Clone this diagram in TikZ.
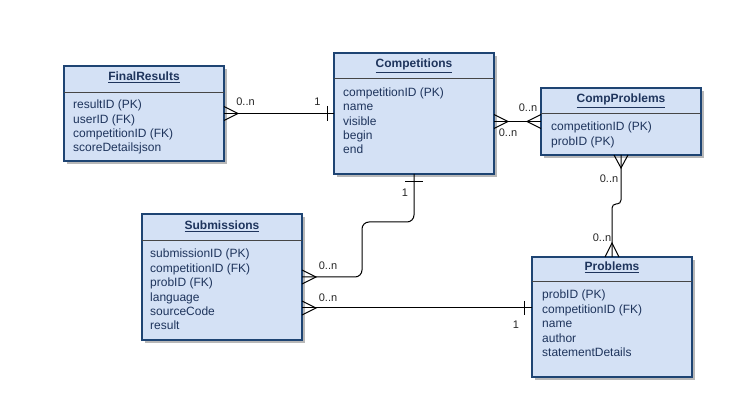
\documentclass[tikz,border=0pt]{standalone}
\usepackage{fontspec}
\setmainfont{Liberation Sans}
\usetikzlibrary{calc,shadows}
\definecolor{efill}{RGB}{212,225,245}
\definecolor{edraw}{RGB}{30,68,115}
\definecolor{etext}{RGB}{30,52,92}
\definecolor{hline}{RGB}{70,70,70}
\tikzset{
  entity/.style={draw=edraw, fill=efill, line width=1.2pt, rectangle, inner sep=0pt, outer sep=0pt,
    minimum width=160pt, anchor=north west,
    drop shadow={shadow xshift=3pt, shadow yshift=-3pt, fill=black!28, opacity=1}},
  etitle/.style={font=\fontsize{12}{14}\selectfont\bfseries, text=etext, anchor=base, inner sep=0pt},
  attr/.style={font=\fontsize{12}{14}\selectfont, text=etext, anchor=base west, inner sep=0pt},
  sepline/.style={draw=hline, line width=0.8pt},
  conn/.style={draw=black, line width=1pt},
  lbl/.style={font=\fontsize{11}{13}\selectfont, text=black!85, inner sep=0pt, anchor=center}
}
\begin{document}
\begin{tikzpicture}[x=1pt,y=-1pt]
\useasboundingbox[fill=white] (0,0) rectangle (749,419);

% entities
\node[entity, minimum height=95pt]  (fr)   at (64,66)  {};
\node[entity, minimum height=121pt] (comp) at (334,53) {};
\node[entity, minimum height=67pt]  (cp)   at (541,88) {};
\node[entity, minimum height=126pt] (sub)  at (142,214){};
\node[entity, minimum height=120pt] (prob) at (532,257){};

% header separators
\draw[sepline] (fr.west |- 0,92) -- (fr.east |- 0,92);
\draw[sepline] (comp.west |- 0,78) -- (comp.east |- 0,78);
\draw[sepline] (cp.west |- 0,113) -- (cp.east |- 0,113);
\draw[sepline] (sub.west |- 0,240) -- (sub.east |- 0,240);
\draw[sepline] (prob.west |- 0,281) -- (prob.east |- 0,281);

% titles
\node[etitle] (frt)   at (144,81)  {\underline{FinalResults}};
\node[etitle] (compt) at (414,68)  {\underline{Competitions}};
\node[etitle] (cpt)   at (621,103) {\underline{CompProblems}};
\node[etitle] (subt)  at (222,230) {\underline{Submissions}};
\node[etitle] (probt) at (612,271) {\underline{Problems}};

% attributes
\foreach \t [count=\i from 0] in {resultID (PK), userID (FK), competitionID (FK), scoreDetailsjson}
  \node[attr] (fr-a\i) at (73,{109+14.3*\i}) {\t};
\foreach \t [count=\i from 0] in {competitionID (PK), name, visible, begin, end}
  \node[attr] (comp-a\i) at (343,{96.5+14.3*\i}) {\t};
\foreach \t [count=\i from 0] in {competitionID (PK), probID (PK)}
  \node[attr] (cp-a\i) at (551,{131+14.3*\i}) {\t};
\foreach \t [count=\i from 0] in {submissionID (PK), competitionID (FK), probID (FK), language, sourceCode, result}
  \node[attr] (sub-a\i) at (150,{258+14.4*\i}) {\t};
\foreach \t [count=\i from 0] in {probID (PK), competitionID (FK), name, author, statementDetails}
  \node[attr] (prob-a\i) at (542,{299+14.4*\i}) {\t};

% connector 1: FinalResults -- Competitions
\coordinate (c1a) at (fr.east);
\coordinate (c1b) at (comp.west |- fr.east);
\draw[conn] (c1a) -- (c1b);
\draw[conn] ($(c1a)+(0,-7)$) -- ($(c1a)+(14,0)$) -- ($(c1a)+(0,7)$);
\draw[conn] ($(c1b)+(-7,-7.5)$) -- ($(c1b)+(-7,7.5)$);
\node[lbl] (l1a) at (245.5,102) {0..n};
\node[lbl] (l1b) at (317.5,102) {1};

% connector 2: Competitions -- CompProblems
\coordinate (c2a) at (comp.east |- cp.west);
\coordinate (c2b) at (cp.west);
\draw[conn] (c2a) -- (c2b);
\draw[conn] ($(c2a)+(0,-7)$) -- ($(c2a)+(14,0)$) -- ($(c2a)+(0,7)$);
\draw[conn] ($(c2b)+(0,-7)$) -- ($(c2b)+(-14,0)$) -- ($(c2b)+(0,7)$);
\node[lbl] (l2a) at (528,108) {0..n};
\node[lbl] (l2b) at (508,133) {0..n};

% connector 3: CompProblems -- Problems
\draw[conn, rounded corners=4pt] (cp.south) -- ++(0,49) -| (prob.north);
\draw[conn] ($(cp.south)+(-7,0)$) -- ($(cp.south)+(0,13)$) -- ($(cp.south)+(7,0)$);
\draw[conn] ($(prob.north)+(-7,0)$) -- ($(prob.north)+(0,-14)$) -- ($(prob.north)+(7,0)$);
\node[lbl] (l3a) at (609,179) {0..n};
\node[lbl] (l3b) at (602,238) {0..n};

% connector 4: Competitions -- Submissions
\draw[conn, rounded corners=7pt] (comp.south) -- ++(0,48) -| ($(sub.east)+(60,0)$) -- (sub.east);
\draw[conn] ($(comp.south)+(-9,8)$) -- ($(comp.south)+(9,8)$);
\draw[conn] ($(sub.east)+(0,-7)$) -- ($(sub.east)+(14,0)$) -- ($(sub.east)+(0,7)$);
\node[lbl] (l4a) at (405,193) {1};
\node[lbl] (l4b) at (328,266) {0..n};

% connector 5: Submissions -- Problems
\coordinate (c5a) at ([yshift=-31pt]sub.east);
\coordinate (c5b) at (prob.west |- c5a);
\draw[conn] (c5a) -- (c5b);
\draw[conn] ($(c5a)+(0,-7)$) -- ($(c5a)+(14,0)$) -- ($(c5a)+(0,7)$);
\draw[conn] ($(c5b)+(-8,-7)$) -- ($(c5b)+(-8,7)$);
\node[lbl] (l5a) at (328,298) {0..n};
\node[lbl] (l5b) at (516,325) {1};
\end{tikzpicture}
\end{document}
